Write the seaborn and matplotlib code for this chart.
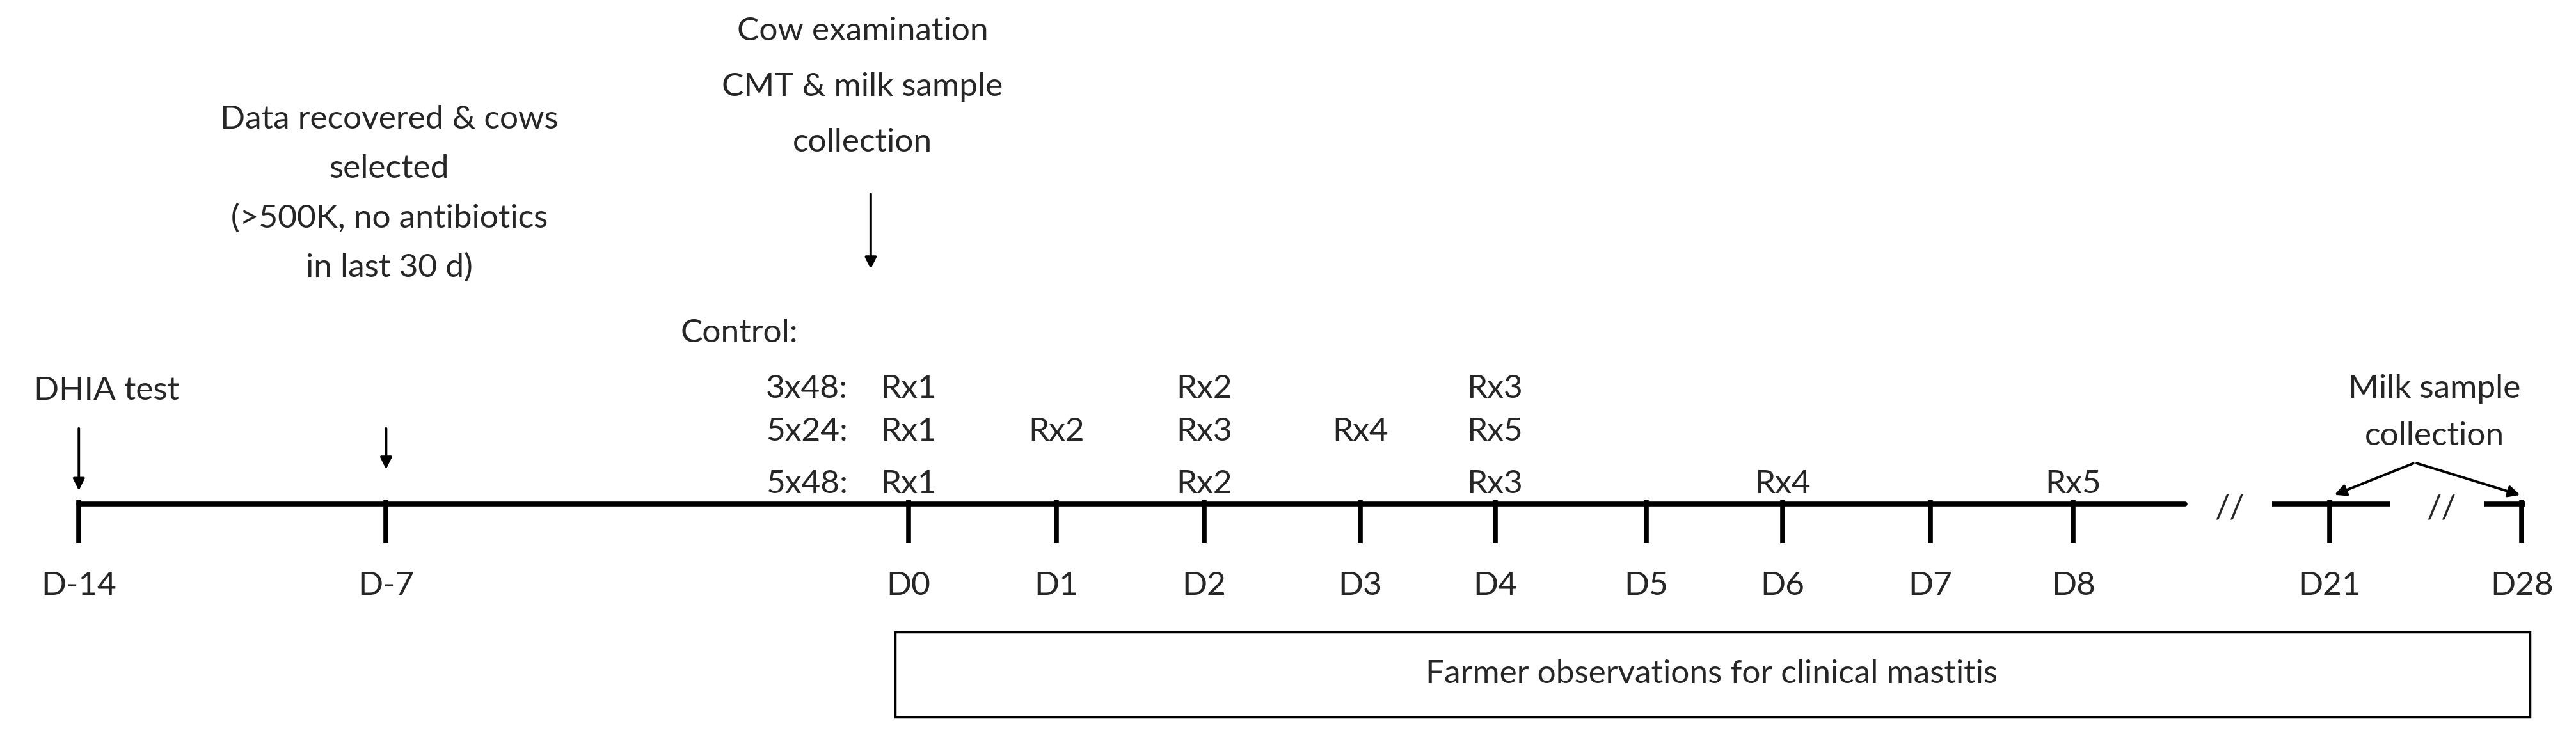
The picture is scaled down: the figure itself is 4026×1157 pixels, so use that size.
import matplotlib
matplotlib.use("Agg")
import matplotlib.pyplot as plt
import seaborn as sns
import pandas as pd
from matplotlib.patches import Rectangle

# Data
day_labels = ["D-14", "D-7", "D0", "D1", "D2", "D3", "D4", "D5", "D6", "D7", "D8", "D21", "D28"]
day_pos = [48, 235, 553, 643, 733, 828, 910, 1002, 1085, 1175, 1262, 1418, 1535]
group_labels = ["3x48:", "5x24:", "5x48:"]
group_rows = [237, 263, 295]
rx_group = ["3x48:", "3x48:", "3x48:", "5x24:", "5x24:", "5x24:", "5x24:", "5x24:",
            "5x48:", "5x48:", "5x48:", "5x48:", "5x48:"]
rx_day = ["D0", "D2", "D4", "D0", "D1", "D2", "D3", "D4", "D0", "D2", "D4", "D6", "D8"]
rx_text = ["Rx1", "Rx2", "Rx3", "Rx1", "Rx2", "Rx3", "Rx4", "Rx5", "Rx1", "Rx2", "Rx3", "Rx4", "Rx5"]

sns.set_theme(style="white")
plt.rcParams["font.family"] = ["Lato", "DejaVu Sans"]
FS = 37
pos = dict(zip(day_labels, day_pos))
rowy = dict(zip(group_labels, group_rows))

fig = plt.figure(figsize=(40.26, 11.57), dpi=100)
ax = fig.add_axes([0, 0, 1, 1])
ax.set_xlim(0, 1568)
ax.set_ylim(451, 0)
ax.axis("off")

LW = 5.5
line_df = pd.DataFrame({"x": [48, 1330], "y": [307, 307]})
sns.lineplot(data=line_df, x="x", y="y", ax=ax, color="black", linewidth=LW)
ax.plot([1383, 1455], [307, 307], color="black", lw=LW, solid_capstyle="butt")
ax.plot([1512, 1537], [307, 307], color="black", lw=LW, solid_capstyle="butt")
for lab, x in zip(day_labels, day_pos):
    ax.plot([x, x], [305, 331], color="black", lw=LW, solid_capstyle="butt")
    ax.text(x, 357, lab, ha="center", va="center", fontsize=FS)
ax.text(1357, 310, "//", ha="center", va="center", fontsize=FS)
ax.text(1486, 310, "//", ha="center", va="center", fontsize=FS)

ax.text(450, 203, "Control:", ha="center", va="center", fontsize=FS)
for g, y in zip(group_labels, group_rows):
    ax.text(516, y, g, ha="right", va="center", fontsize=FS)
for g, d, t in zip(rx_group, rx_day, rx_text):
    ax.text(pos[d], rowy[g], t, ha="center", va="center", fontsize=FS)

ap = dict(arrowstyle="-|>,head_length=0.9,head_width=0.45", color="black", lw=2.8)
ax.annotate("", xy=(48, 300), xytext=(48, 260), arrowprops=ap)
ax.text(65, 238, "DHIA test", ha="center", va="center", fontsize=FS)
ax.annotate("", xy=(235, 287), xytext=(235, 260), arrowprops=ap)
for i, t in enumerate(["Data recovered & cows", "selected", "(>500K, no antibiotics", "in last 30 d)"]):
    ax.text(237, 73 + 30 * i, t, ha="center", va="center", fontsize=FS)
ax.annotate("", xy=(530, 165), xytext=(530, 117), arrowprops=ap)
for i, t in enumerate(["Cow examination", "CMT & milk sample", "collection"]):
    ax.text(525, 19 + 34 * i, t, ha="center", va="center", fontsize=FS)
for i, t in enumerate(["Milk sample", "collection"]):
    ax.text(1482, 237 + 29 * i, t, ha="center", va="center", fontsize=FS)
ax.annotate("", xy=(1420, 302), xytext=(1470, 282), arrowprops=ap)
ax.annotate("", xy=(1535, 302), xytext=(1470, 282), arrowprops=ap)

ax.add_patch(Rectangle((545, 385), 995, 52, fill=False, ec="black", lw=2.5))
ax.text(1042, 411, "Farmer observations for clinical mastitis", ha="center", va="center", fontsize=FS)

fig.savefig("out.png", dpi=100, facecolor="white")
